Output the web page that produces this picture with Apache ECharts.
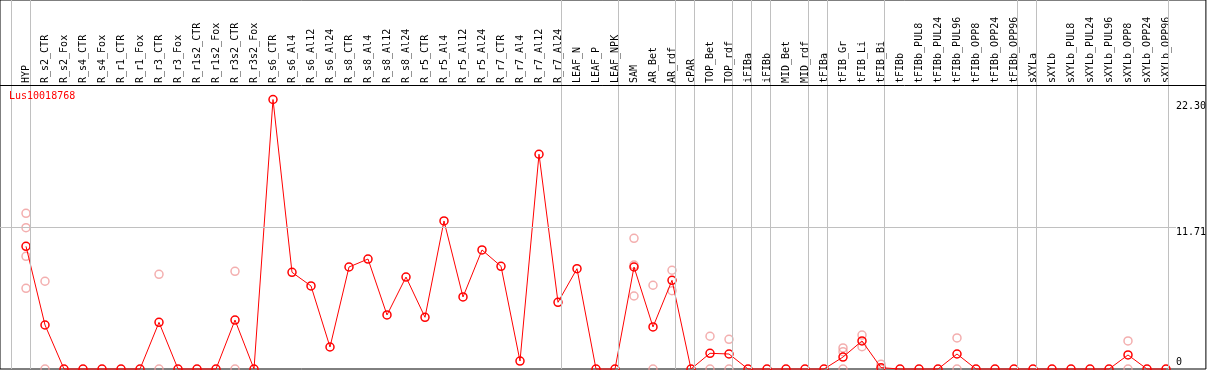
<!DOCTYPE html>
<html><head><meta charset="utf-8">
<script src="https://cdn.jsdelivr.net/npm/echarts@6/dist/echarts.min.js"></script>
<style>html,body{margin:0;padding:0;background:#fff}#c{width:1209px;height:370px}</style>
</head><body><div id="c"></div>
<script>
// ---- data ----
const geneName = 'Lus10018768';
const categories = ['HYP','R_s2_CTR','R_s2_Fox','R_s4_CTR','R_s4_Fox','R_r1_CTR','R_r1_Fox','R_r3_CTR','R_r3_Fox',
  'R_r1s2_CTR','R_r1s2_Fox','R_r3s2_CTR','R_r3s2_Fox','R_s6_CTR','R_s6_Al4','R_s6_Al12','R_s6_Al24',
  'R_s8_CTR','R_s8_Al4','R_s8_Al12','R_s8_Al24','R_r5_CTR','R_r5_Al4','R_r5_Al12','R_r5_Al24',
  'R_r7_CTR','R_r7_Al4','R_r7_Al12','R_r7_Al24','LEAF_N','LEAF_P','LEAF_NPK','SAM','AR_Bet','AR_rdf',
  'cPAR','TOP_Bet','TOP_rdf','iFIBa','iFIBb','MID_Bet','MID_rdf','tFIBa','tFIB_Gr','tFIB_Li','tFIB_Bi',
  'tFIBb','tFIBb_PUL8','tFIBb_PUL24','tFIBb_PUL96','tFIBb_OPP8','tFIBb_OPP24','tFIBb_OPP96',
  'sXYLa','sXYLb','sXYLb_PUL8','sXYLb_PUL24','sXYLb_PUL96','sXYLb_OPP8','sXYLb_OPP24','sXYLb_OPP96'];
const means = [10.15,3.64,0,0,0,0,0,3.86,0,0,0,4.05,0,22.30,8.00,6.87,1.82,8.44,9.10,4.47,7.61,4.28,12.25,
  5.96,9.85,8.50,0.66,17.77,5.52,8.30,0,0,8.44,3.48,7.34,0,1.30,1.24,0,0,0,0,0,0.99,2.32,0.11,
  0,0,0,1.24,0,0,0,0,0,0,0,0,1.16,0,0];
// replicate values per category index (only visible ones)
const replicateIdx = [0,1,7,11,32,33,34,36,37,43,44,45,49,58];
const replicateVals = [[12.88,11.69,9.32,6.68],[7.26,0],[7.83,0],[8.08,0],[10.81,8.6,6.04],[6.93,0],[8.17,6.48],
  [2.71,0],[2.46,0],[1.74,1.43,0],[2.81,1.85],[0.40,0],[2.57,0],[2.32,0]];
const yTicks = [0, 11.71, 22.30];
const yTickLabels = ['0', '11.71', '22.30'];
const groupEnds = [-1, 0, 28, 31, 34, 35, 37, 38, 39, 41, 42, 45, 52, 53, 60];

// ---- layout ----
const STEP = 19, X0 = 26, TOP = 85, BOTTOM = 369, FRAME_W = 1208, YMAX = 23.5;
const PLOT_H = BOTTOM - TOP;
const Y1MAX = YMAX * BOTTOM / PLOT_H;
const xMin1 = -X0 / STEP, xMax1 = (FRAME_W - X0) / STEP;
const yAtPix = p => (BOTTOM - p) / BOTTOM * Y1MAX;
const xAtPix = p => (p - X0) / STEP;
const FONT = 'DejaVu Sans Mono';

const scatterData = [];
replicateIdx.forEach((ci, k) => replicateVals[k].forEach(v => scatterData.push([ci, v])));

const chart = echarts.init(document.getElementById('c'), null, {renderer: 'canvas'});
chart.setOption({
  animation: false,
  title: {text: geneName, left: 9, top: 91, padding: 0,
    textStyle: {color: '#ff0000', fontSize: 10, fontFamily: FONT, fontWeight: 'normal'}},
  grid: [
    {left: X0 - STEP / 2, top: TOP, width: categories.length * STEP, height: PLOT_H},
    {left: 0, top: 0, width: FRAME_W, height: BOTTOM, show: true, borderColor: '#000', borderWidth: 1,
     backgroundColor: 'transparent'}
  ],
  xAxis: [
    {type: 'category', gridIndex: 0, data: categories, position: 'top', boundaryGap: true,
     axisLine: {show: false}, axisTick: {show: false}, splitLine: {show: false},
     axisLabel: {interval: 0, rotate: 90, margin: 2, color: '#000', fontSize: 10, fontFamily: FONT}},
    {type: 'value', gridIndex: 1, min: xMin1, max: xMax1, show: false}
  ],
  yAxis: [
    {type: 'value', gridIndex: 0, min: 0, max: YMAX, show: false},
    {type: 'value', gridIndex: 1, min: 0, max: Y1MAX, position: 'right',
     axisLine: {show: false}, axisTick: {show: false}, splitLine: {show: false},
     axisLabel: {inside: true, align: 'left', margin: 30, verticalAlign: 'middle',
       customValues: yTicks, color: '#000', fontSize: 10, fontFamily: FONT,
       formatter: v => { const i = yTicks.indexOf(v); const k = ['b', 'm', 't'][i];
         return '{' + k + '|' + yTickLabels[i] + '}'; },
       rich: {
         b: {fontSize: 10, fontFamily: FONT, color: '#000', padding: [0, 0, 14, 0]},
         m: {fontSize: 10, fontFamily: FONT, color: '#000', padding: [10, 0, 0, 0]},
         t: {fontSize: 10, fontFamily: FONT, color: '#000', padding: [14, 0, 0, 0]}
       }}}
  ],
  series: [
    {type: 'line', xAxisIndex: 1, yAxisIndex: 1, data: [], silent: true, z: 1,
     markLine: {silent: true, symbol: 'none', animation: false, label: {show: false},
       data: groupEnds.map(i => ({xAxis: i + 4.5 / STEP,
           lineStyle: {color: '#c0c0c0', width: 1, type: 'solid'}}))
         .concat([
           [{coord: [xMin1, 11.71], lineStyle: {color: '#c0c0c0', width: 1, type: 'solid'}},
            {coord: [xAtPix(1178), 11.71]}],
           [{coord: [xMin1, yAtPix(85.5)], lineStyle: {color: '#000', width: 1, type: 'solid'}},
            {coord: [xMax1, yAtPix(85.5)]}]
         ])}},
    {type: 'scatter', xAxisIndex: 0, yAxisIndex: 0, data: scatterData, symbol: 'circle', symbolSize: 8,
     clip: false, z: 2,
     itemStyle: {color: 'rgba(255,255,255,0)', borderColor: '#f09a9a', borderWidth: 1.5}},
    {type: 'line', xAxisIndex: 0, yAxisIndex: 0, data: means, symbol: 'circle', symbolSize: 8,
     showAllSymbol: true, clip: false, z: 3,
     lineStyle: {color: '#ff0000', width: 1},
     itemStyle: {color: 'rgba(255,255,255,0)', borderColor: '#ff0000', borderWidth: 1.5}}
  ]
});
</script></body></html>
